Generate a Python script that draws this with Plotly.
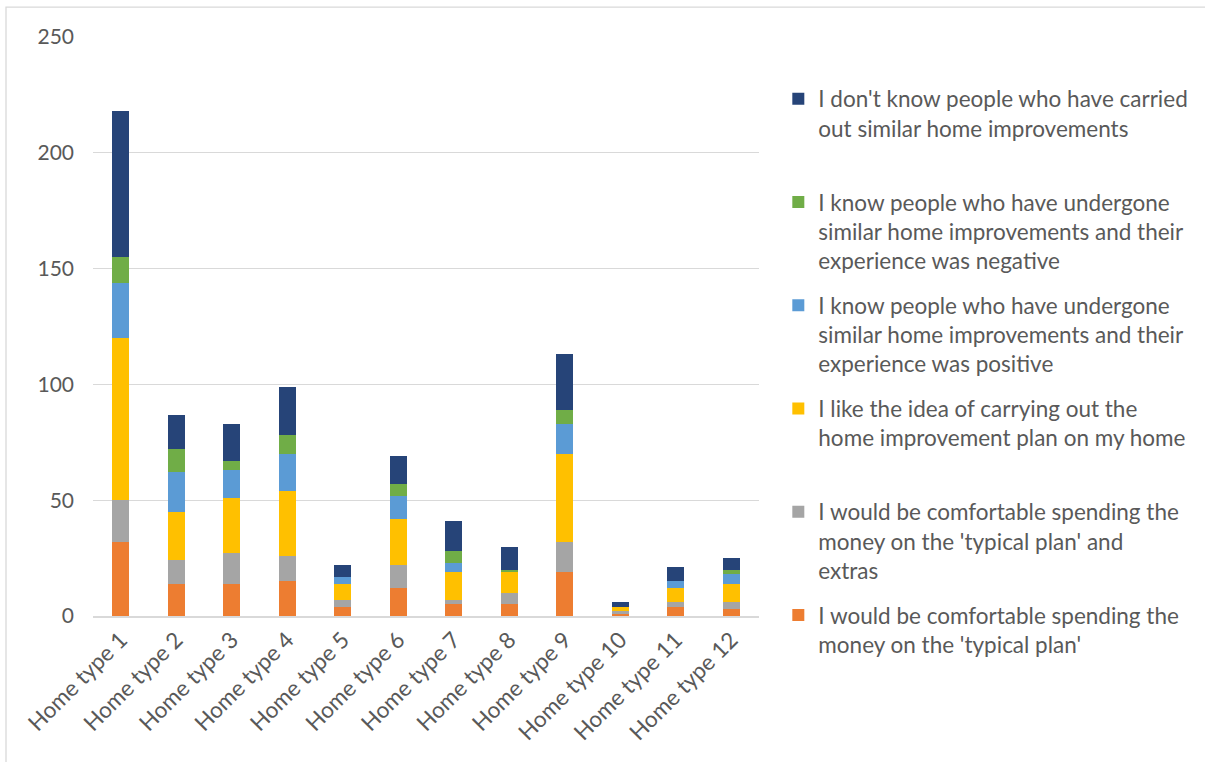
import plotly.graph_objects as go

categories = [f"Home type {i}" for i in range(1, 13)]

series_names = [
    "I would be comfortable spending the<br>money on the 'typical plan'",
    "I would be comfortable spending the<br>money on the 'typical plan' and<br>extras",
    "I like the idea of carrying out the<br>home improvement plan on my home",
    "I know people who have undergone<br>similar home improvements and their<br>experience was positive",
    "I know people who have undergone<br>similar home improvements and their<br>experience was negative",
    "I don't know people who have carried<br>out similar home improvements",
]

typical_plan = [32, 14, 14, 15, 4, 12, 5, 5, 19, 1, 4, 3]
typical_plan_extras = [18, 10, 13, 11, 3, 10, 2, 5, 13, 1, 2, 3]
like_idea = [70, 21, 24, 28, 7, 20, 12, 9, 38, 2, 6, 8]
know_positive = [24, 17, 12, 16, 3, 10, 4, 0, 13, 0, 3, 4]
know_negative = [11, 10, 4, 8, 0, 5, 5, 1, 6, 0, 0, 2]
dont_know = [63, 15, 16, 21, 5, 12, 13, 10, 24, 2, 6, 5]

series_values = [typical_plan, typical_plan_extras, like_idea,
                 know_positive, know_negative, dont_know]
colors = ["#ED7D31", "#A5A5A5", "#FFC000", "#5B9BD5", "#70AD47", "#264478"]

y_ticks = [0, 50, 100, 150, 200, 250]

FONT = "Lato"
TEXT = "#595959"
GRID = "#D9D9D9"

fig = go.Figure()
n = len(series_names)
for i, (name, vals, col) in enumerate(zip(series_names, series_values, colors)):
    # pad legend entries to three lines so the entries are evenly spaced
    # (the bottom entry needs no padding)
    pad = 0 if i == 0 else 2 - name.count("<br>")
    label = name + "<br>\u00a0" * pad
    fig.add_trace(go.Bar(
        x=categories, y=vals, name=label, legendgroup=f"g{i}",
        legendrank=n - i,
        marker=dict(color=col, line=dict(width=0)),
    ))

fig.update_layout(
    barmode="stack",
    bargap=0.685,
    width=1205, height=762,
    margin=dict(l=93, r=446, t=37, b=146),
    paper_bgcolor="white", plot_bgcolor="white",
    font=dict(family=FONT, size=21, color=TEXT),
    legend=dict(
        x=1.029, xanchor="left",
        y=0.93, yanchor="top", maxheight=740,
        traceorder="grouped", tracegroupgap=12.5,
        valign="top", font=dict(family=FONT, size=22.5, color=TEXT),
        bgcolor="rgba(0,0,0,0)",
    ),
    shapes=[dict(type="rect", xref="paper", yref="paper",
                 x0=-87 / 666, x1=1.8, y0=-0.5,
                 y1=1 + 30 / 579.5,
                 line=dict(color=GRID, width=1.3), layer="below")],
)

fig.update_yaxes(
    range=[0, 250], tickvals=y_ticks, showgrid=True, gridcolor=GRID,
    gridwidth=1.3, zeroline=False, showline=False, ticks="",
    ticklabelstandoff=18, tickfont=dict(family=FONT, size=21, color=TEXT),
)
fig.update_xaxes(
    tickangle=-45, showline=True, linecolor=GRID, linewidth=1.5,
    ticks="", tickfont=dict(family=FONT, size=22.5, color=TEXT),
)

fig.write_html("out.html")
